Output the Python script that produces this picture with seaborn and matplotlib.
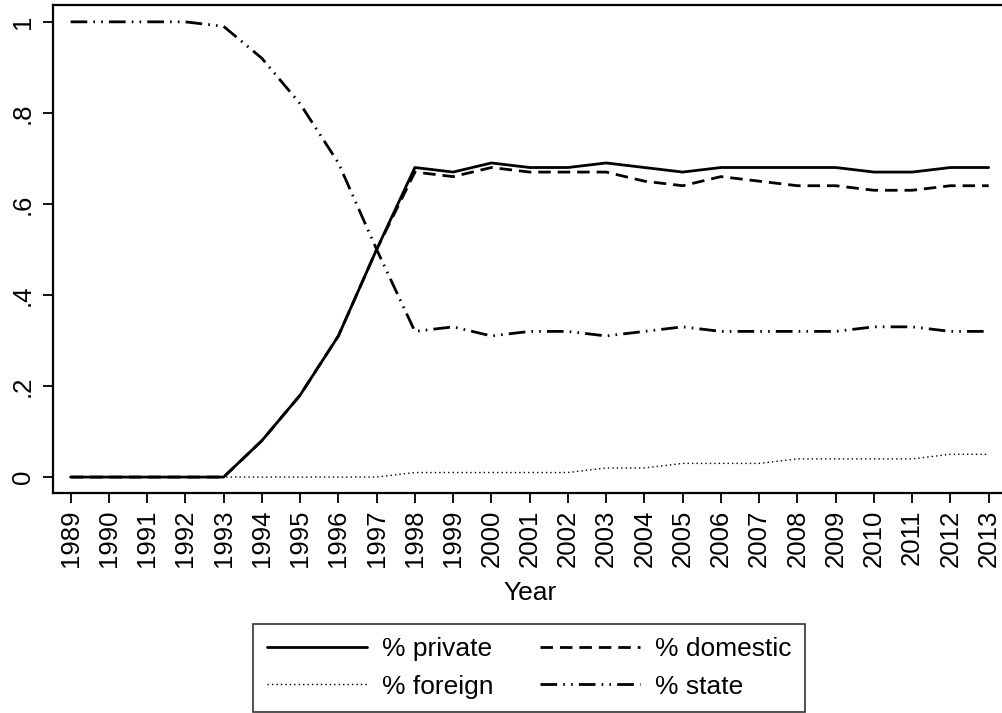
import matplotlib
matplotlib.use("Agg")
import matplotlib.pyplot as plt
import seaborn as sns
import numpy as np

years = list(range(1989, 2014))
pct_private = [0, 0, 0, 0, 0, 0.08, 0.18, 0.31, 0.50, 0.68, 0.67, 0.69, 0.68,
               0.68, 0.69, 0.68, 0.67, 0.68, 0.68, 0.68, 0.68, 0.67, 0.67, 0.68, 0.68]
pct_domestic = [0, 0, 0, 0, 0, 0.08, 0.18, 0.31, 0.50, 0.67, 0.66, 0.68, 0.67,
                0.67, 0.67, 0.65, 0.64, 0.66, 0.65, 0.64, 0.64, 0.63, 0.63, 0.64, 0.64]
pct_foreign = [0, 0, 0, 0, 0, 0, 0, 0, 0, 0.01, 0.01, 0.01, 0.01,
               0.01, 0.02, 0.02, 0.03, 0.03, 0.03, 0.04, 0.04, 0.04, 0.04, 0.05, 0.05]
pct_state = [1.0, 1.0, 1.0, 1.0, 0.99, 0.92, 0.82, 0.69, 0.50, 0.32, 0.33, 0.31, 0.32,
             0.32, 0.31, 0.32, 0.33, 0.32, 0.32, 0.32, 0.32, 0.33, 0.33, 0.32, 0.32]
labels = ["% private", "% domestic", "% foreign", "% state"]
y_ticks = [0, 0.2, 0.4, 0.6, 0.8, 1.0]
y_ticklabels = ["0", ".2", ".4", ".6", ".8", "1"]

sns.set_theme(style="ticks")
plt.rcParams["font.family"] = ["Liberation Sans", "DejaVu Sans"]
plt.rcParams["text.color"] = "black"
plt.rcParams["axes.labelcolor"] = "black"
plt.rcParams["xtick.color"] = "black"
plt.rcParams["ytick.color"] = "black"

fig = plt.figure(figsize=(10.02, 7.13), dpi=100)
ax = fig.add_axes([53 / 1002, 1 - 493 / 713, 951 / 1002, 488 / 713])

# desenhar as series (estilo Stata, tudo preto)
sns.lineplot(x=years, y=pct_foreign, ax=ax, color="black", lw=1.0,
             linestyle=(0, (1, 2.2)))
sns.lineplot(x=years, y=pct_state, ax=ax, color="black", lw=2.0,
             linestyle=(0, (6, 2.2, 0.6, 2.2, 0.6, 2.2)))
sns.lineplot(x=years, y=pct_domestic, ax=ax, color="black", lw=2.0,
             linestyle=(0, (4.5, 2.5)))
sns.lineplot(x=years, y=pct_private, ax=ax, color="black", lw=2.0)
l_foreign, l_state, l_domestic, l_private = ax.get_lines()[:4]

ax.set_xlim(1988.54, 2013.4)
ax.set_ylim(-0.035, 1.037)
ax.set_xticks(years)
ax.set_xticklabels([str(y) for y in years], rotation=90, fontsize=18.5)
ax.set_yticks(y_ticks)
ax.set_yticklabels(y_ticklabels, rotation=90, fontsize=18.5, va="center")
ax.tick_params(axis="both", direction="out", length=7, width=1.3)
ax.tick_params(axis="x", pad=5)
ax.tick_params(axis="y", pad=6)
for s in ax.spines.values():
    s.set_visible(True)
    s.set_color("black")
    s.set_linewidth(1.6)
ax.set_xlabel("")
ax.set_ylabel("")

fig.text(530 / 1002, 1 - 593 / 713, "Year", ha="center", va="center", fontsize=19)

leg = fig.legend([l_private, l_foreign, l_domestic, l_state],
                 ["% private", "% foreign", "% domestic", "% state"],
                 ncol=2, loc="center", bbox_to_anchor=(529 / 1002, 1 - 668 / 713),
                 fontsize=19, frameon=True, fancybox=False, handlelength=3.8,
                 handletextpad=0.57, columnspacing=1.75, labelspacing=0.5,
                 borderpad=0.5, borderaxespad=0)
leg.get_frame().set_edgecolor("black")
leg.get_frame().set_linewidth(1.2)

fig.savefig("out.png", dpi=100)
